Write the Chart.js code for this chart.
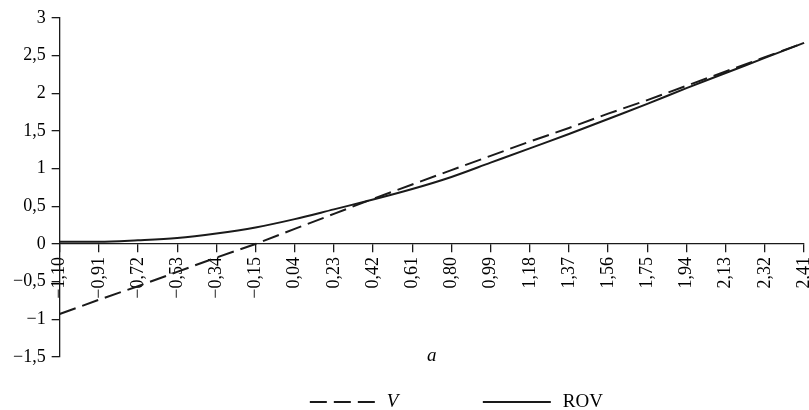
<!DOCTYPE html>
<html>
<head>
<meta charset="utf-8">
<script src="https://cdn.jsdelivr.net/npm/chart.js@4.4.1/dist/chart.umd.min.js"></script>
<style>
  html, body { margin: 0; padding: 0; background: #fff; }
  #wrap { width: 809px; height: 410px; }
</style>
</head>
<body>
<div id="wrap"><canvas id="myChart" width="809" height="410"></canvas></div>
<script>
// values
const aValues = [-1.10, -0.91, -0.72, -0.53, -0.34, -0.15, 0.04, 0.23, 0.42, 0.61,
                 0.80, 0.99, 1.18, 1.37, 1.56, 1.75, 1.94, 2.13, 2.32, 2.41];
const vValues = [-0.93, -0.74, -0.56, -0.37, -0.18, 0.00, 0.20, 0.40, 0.60, 0.79,
                 0.98, 1.17, 1.36, 1.54, 1.73, 1.91, 2.10, 2.29, 2.48, 2.67];
const rovValues = [0.03, 0.03, 0.05, 0.08, 0.14, 0.22, 0.33, 0.46, 0.59, 0.73,
                   0.89, 1.08, 1.27, 1.46, 1.66, 1.86, 2.07, 2.27, 2.47, 2.67];
const seriesNames = ['V', 'ROV'];
const xTitle = 'a';

// 1.5 -> "1,5", -0.5 -> "−0,5"
function fmt(v, digits) {
  let s = digits === undefined ? String(v) : v.toFixed(digits);
  return s.replace('.', ',').replace('-', '\u2212');
}

const categories = aValues.map(v => fmt(v, 2));
const ink = '#1a1a1a';

Chart.defaults.font.family = '"Liberation Serif", "Times New Roman", serif';
Chart.defaults.color = '#000';

// legend drawn under the plot, dashed sample for V and solid for ROV
const lineKey = {
  id: 'lineKey',
  afterDraw(chart, args, opts) {
    const { ctx, chartArea } = chart;
    const cx = (chartArea.left + chartArea.right) / 2;
    const y = chartArea.bottom + opts.gap;
    ctx.save();
    chart.data.datasets.forEach((ds, i) => {
      const x0 = cx + opts.starts[i];
      ctx.beginPath();
      ctx.setLineDash(ds.borderDash || []);
      ctx.lineWidth = ds.borderWidth;
      ctx.strokeStyle = ds.borderColor;
      ctx.moveTo(x0, y);
      ctx.lineTo(x0 + opts.lineLength, y);
      ctx.stroke();
      ctx.setLineDash([]);
      ctx.font = opts.fonts[i];
      ctx.fillStyle = '#000';
      ctx.textBaseline = 'middle';
      ctx.textAlign = 'left';
      ctx.fillText(ds.label, x0 + opts.lineLength + opts.textGap[i], y);
    });
    ctx.restore();
  }
};

const ctx = document.getElementById('myChart').getContext('2d');
new Chart(ctx, {
  type: 'line',
  data: {
    labels: categories,
    datasets: [
      {
        label: seriesNames[0],
        data: vValues,
        borderColor: ink,
        borderWidth: 2,
        borderDash: [17, 7],
        pointRadius: 0,
        tension: 0,
        fill: false
      },
      {
        label: seriesNames[1],
        data: rovValues,
        borderColor: ink,
        borderWidth: 2,
        pointRadius: 0,
        cubicInterpolationMode: 'monotone',
        fill: false
      }
    ]
  },
  options: {
    responsive: false,
    animation: false,
    layout: { padding: { left: 7, right: 5, top: 18, bottom: 53 } },
    plugins: {
      legend: { display: false },
      tooltip: { enabled: false },
      lineKey: {
        gap: 45,
        starts: [-122, 51],
        lineLength: 68,
        textGap: [9, 12],
        fonts: ['italic 19px "Liberation Serif"', '19px "Liberation Serif"']
      }
    },
    scales: {
      x: {
        type: 'category',
        position: { y: 0 },
        offset: false,
        // the last rotated label may hang past the plot edge, as in the original
        afterFit: s => { s.paddingRight = 0; s.paddingLeft = 0; },
        grid: { drawOnChartArea: false, drawTicks: true, tickLength: 8, color: ink, lineWidth: 1.3 },
        border: { display: true, color: ink, width: 1.3 },
        ticks: {
          autoSkip: false,
          minRotation: 90,
          maxRotation: 90,
          padding: 5,
          font: { size: 18 },
          color: '#000'
        },
        title: {
          display: true,
          text: xTitle,
          font: { size: 19, style: 'italic' },
          padding: { top: 41, bottom: 0 }
        }
      },
      y: {
        min: -1.5,
        max: 3,
        grid: { drawOnChartArea: false, drawTicks: true, tickLength: 8, color: ink, lineWidth: 1.3 },
        border: { display: true, color: ink, width: 1.3 },
        ticks: {
          stepSize: 0.5,
          padding: 6,
          font: { size: 18 },
          color: '#000',
          callback: v => fmt(v)
        }
      }
    }
  },
  plugins: [lineKey]
});
</script>
</body>
</html>
